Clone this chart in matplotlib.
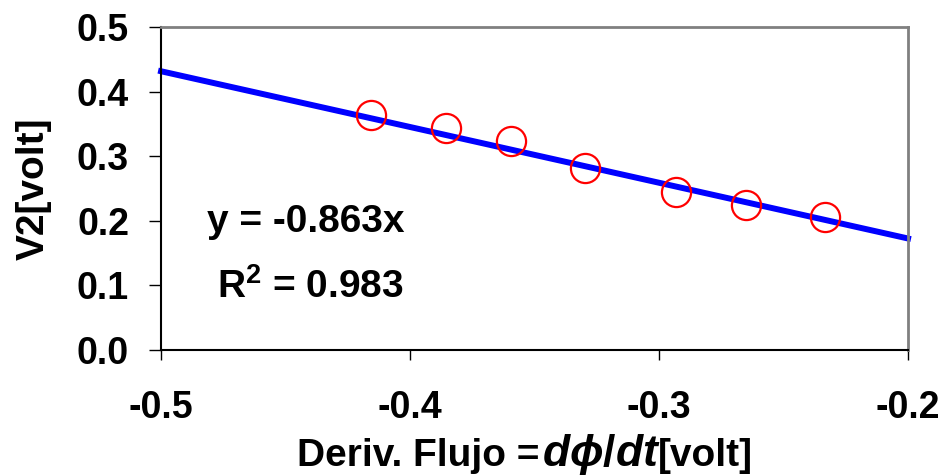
import numpy as np
import matplotlib.pyplot as plt

plt.rcParams['font.family'] = ['Liberation Sans', 'DejaVu Sans']
plt.rcParams['font.weight'] = 'bold'
plt.rcParams['mathtext.fontset'] = 'custom'
plt.rcParams['mathtext.it'] = 'Liberation Sans:italic:bold'
plt.rcParams['mathtext.rm'] = 'Liberation Sans:bold'
plt.rcParams['mathtext.bf'] = 'Liberation Sans:bold'

# measured points
flux_deriv = [-0.4157, -0.3855, -0.3594, -0.3297, -0.2932, -0.2650, -0.2333]
v2 = [0.364, 0.344, 0.3235, 0.282, 0.2446, 0.2245, 0.206]

# fitted line through origin
slope = -0.863
r2 = 0.983
fit_x = np.array([-0.5, -0.2])

xticks = [-0.5, -0.4, -0.3, -0.2]
yticks = [0.0, 0.1, 0.2, 0.3, 0.4, 0.5]

W, H = 944, 476
fig = plt.figure(figsize=(W / 100, H / 100), dpi=100)
ax = fig.add_axes([0.1706, 0.2647, 0.7913, 0.6786])

ax.plot(fit_x, slope * fit_x, color='#0000ff', lw=4.3, zorder=2, clip_on=False)
ax.plot(flux_deriv, v2, 'o', ms=21, mfc='none', mec='#ff0000', mew=1.6, zorder=3)

ax.set_xlim(-0.5, -0.2)
ax.set_ylim(0, 0.5)
ax.set_xticks(xticks)
ax.set_xticklabels(['%.1f' % v for v in xticks])
ax.set_yticks(yticks)
ax.set_yticklabels(['%.1f' % v for v in yticks])

ax.tick_params(axis='y', direction='out', length=9, width=1, labelsize=27, pad=14)
ax.tick_params(axis='x', direction='out', length=7, width=1, labelsize=27, pad=22)

for side in ['left', 'bottom']:
    ax.spines[side].set_color('#000000')
    ax.spines[side].set_linewidth(1.5)
for side in ['top', 'right']:
    ax.spines[side].set_color('#808080')
    ax.spines[side].set_linewidth(2)

ax.set_ylabel('V2[volt]', fontsize=28, fontweight='bold', labelpad=18)

# x label built from pieces so the derivative part can be larger
renderer = fig.canvas.get_renderer()
pieces = [('Deriv. Flujo =', 28, 3), (r'$d\phi/dt$', 32, -3), ('[volt]', 28, 0)]
x_px = 297
base_px = H - 466
for s, size, gap in pieces:
    t = fig.text(x_px / W, base_px / H, s, fontsize=size, fontweight='bold',
                 ha='left', va='baseline')
    x_px += t.get_window_extent(renderer).width + gap

ax.text(-0.442, 0.198, 'y = %.3fx' % slope, fontsize=28, fontweight='bold',
        ha='center', va='center')
ax.text(-0.44, 0.098, r'R$^2$ = %.3f' % r2, fontsize=28, fontweight='bold',
        ha='center', va='center')

fig.savefig('out.png', dpi=100)
